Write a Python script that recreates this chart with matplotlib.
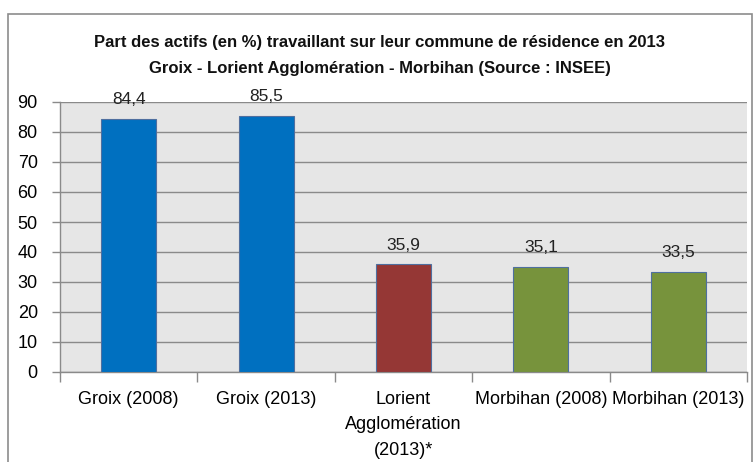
import matplotlib
matplotlib.use("Agg")
import matplotlib.pyplot as plt
from matplotlib.patches import Rectangle

categories = ["Groix (2008)", "Groix (2013)", "Lorient\nAgglomération\n(2013)*",
              "Morbihan (2008)", "Morbihan (2013)"]
values = [84.4, 85.5, 35.9, 35.1, 33.5]
value_labels = ["84,4", "85,5", "35,9", "35,1", "33,5"]
colors = ["#0070c0", "#0070c0", "#953735", "#77933c", "#77933c"]
yticks = [0, 10, 20, 30, 40, 50, 60, 70, 80, 90]
title = ("Part des actifs (en %) travaillant sur leur commune de résidence en 2013\n"
         "Groix - Lorient Agglomération - Morbihan (Source : INSEE)")

plt.rcParams['font.family'] = ['Liberation Sans', 'DejaVu Sans']

W, H = 755, 462
fig = plt.figure(figsize=(W / 100, H / 100), dpi=100)
fig.patch.set_facecolor("white")

# outer chart border
fig.patches.append(Rectangle((8 / W, -0.01), (752 - 8) / W, (H - 14) / H + 0.01,
                             transform=fig.transFigure, fill=False,
                             edgecolor="#8c8c8c", linewidth=1.2))

ax = fig.add_axes([60 / W, 1 - 372 / H, (747 - 60) / W, (372 - 102) / H])
ax.set_facecolor("#e6e6e6")

x = list(range(len(categories)))
ax.bar(x, values, width=0.4, color=colors, edgecolor="#4f6f9f", linewidth=0.8, zorder=3)

for xi, v, lab in zip(x, values, value_labels):
    ax.text(xi, v + 6.3, lab, ha="center", va="center", fontsize=12.5, color="#222222",
            zorder=4)

ax.set_xlim(-0.5, len(categories) - 0.5)
ax.set_ylim(0, 90)
ax.set_yticks(yticks)
ax.set_yticklabels([str(t) for t in yticks], fontsize=13)
ax.yaxis.grid(True, color="#8a8a8a", linewidth=1.0, zorder=0)
ax.set_axisbelow(True)

ax.set_xticks(x)
ax.set_xticklabels(categories, fontsize=13, linespacing=1.65)
ax.tick_params(axis="x", length=0, pad=13.5)
ax.set_xticks([i - 0.5 for i in range(len(categories) + 1)], minor=True)
ax.tick_params(axis="x", which="minor", length=7, color="#8a8a8a", width=1)
ax.tick_params(axis="y", length=6, color="#8a8a8a", width=1, pad=10)

for s in ["top", "right"]:
    ax.spines[s].set_visible(False)
for s in ["left", "bottom"]:
    ax.spines[s].set_color("#8a8a8a")
    ax.spines[s].set_linewidth(1.0)

fig.text(0.5 * (8 + 752) / W, 1 - 55.5 / H, title, ha="center", va="center",
         fontsize=12, fontweight="bold", linespacing=1.95, color="#111111")

fig.savefig("out.png", dpi=100, facecolor="white")
